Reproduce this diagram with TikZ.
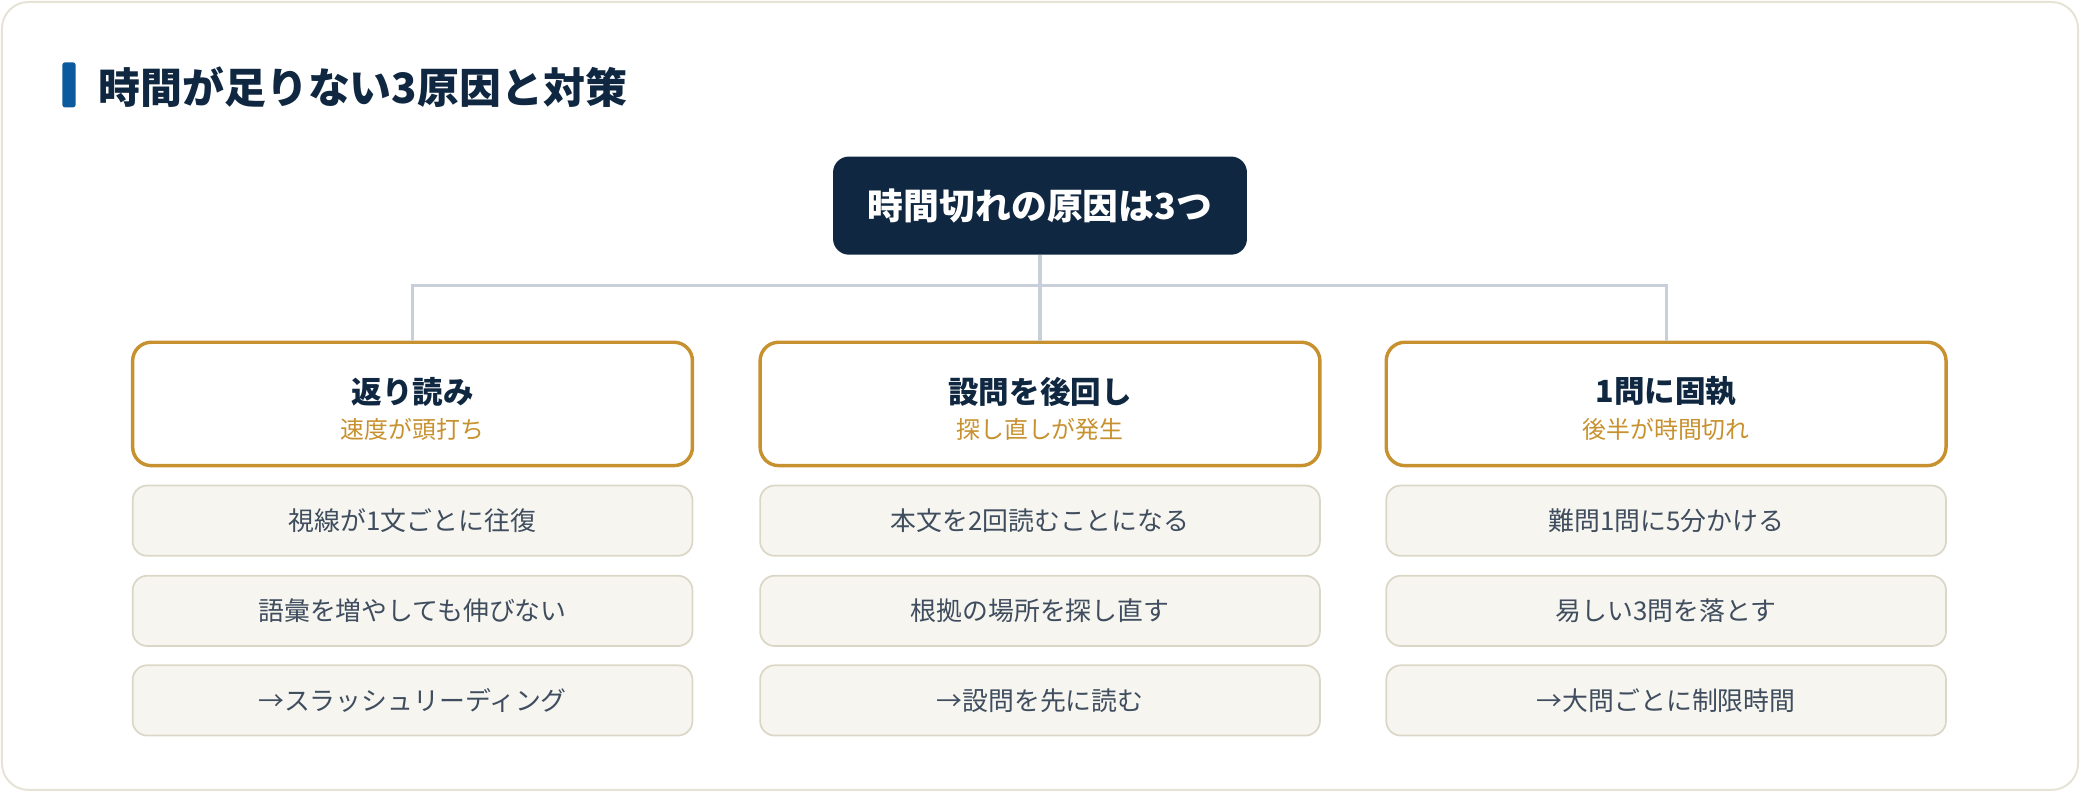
\documentclass[tikz,border=0pt]{standalone}
\usepackage{fontspec}
\setmainfont{Noto Sans CJK JP}
\usepackage{xcolor}
\usetikzlibrary{positioning}

\definecolor{navy}{HTML}{0F2740}
\definecolor{barblue}{HTML}{0B5A9E}
\definecolor{gold}{HTML}{C8912F}
\definecolor{linkgray}{HTML}{C9CFD8}
\definecolor{framegray}{HTML}{E6E3D6}
\definecolor{detailfill}{HTML}{F6F5F0}
\definecolor{detailline}{HTML}{DBD7C7}
\definecolor{detailtext}{HTML}{3F4D5E}

\tikzset{
	causebox/.style = {draw = gold, line width = 2.6pt, fill = white, rounded corners = 14pt, minimum width = 422pt, minimum height = 93pt, inner sep = 0pt, align = center},
	detailbox/.style = {draw = detailline, line width = 1.3pt, fill = detailfill, rounded corners = 11pt, minimum width = 422pt, minimum height = 53pt, inner sep = 0pt, text = detailtext, font = \fontsize{19.5}{23}\selectfont},
	link/.style = {draw = linkgray, line width = 2.4pt},
}
\newcommand{\causetext}[2]{{\rule{0pt}{27pt}\fontsize{23}{28}\selectfont\bfseries\color{navy}#1}\\[8pt]{\fontsize{18}{22}\selectfont\color{gold}#2}}

\begin{document}
\begin{tikzpicture}[x = 1pt, y = -1pt]
		\useasboundingbox (0,0) rectangle (1568,597);
		\draw[framegray, line width = 1.5pt, rounded corners = 20pt] (1.5,1.5) rectangle (1566.5,595.5);
		\fill[barblue, rounded corners = 2pt] (47,47) rectangle (57,81);
		\node[anchor = west, inner sep = 0pt, text = navy, font = \fontsize{31.6}{36}\selectfont\bfseries] (title) at (74,66) {時間が足りない3原因と対策};
		\node[fill = navy, text = white, rounded corners = 12pt, minimum width = 312pt, minimum height = 74pt, inner sep = 0pt, font = \fontsize{27}{32}\selectfont\bfseries] (root) at (784,155) {時間切れの原因は3つ};
		\coordinate (bus) at (784,215);
		\node[causebox] (c1) at (311,304.5) {\causetext{返り読み}{速度が頭打ち}};
		\node[causebox] (c2) at (784,304.5) {\causetext{設問を後回し}{探し直しが発生}};
		\node[causebox] (c3) at (1256,304.5) {\causetext{1問に固執}{後半が時間切れ}};
		\node[detailbox] (d11) at (311,392.5) {視線が1文ごとに往復};
		\node[detailbox] (d12) at (311,460.5) {語彙を増やしても伸びない};
		\node[detailbox] (d13) at (311,528) {→スラッシュリーディング};
		\node[detailbox] (d21) at (784,392.5) {本文を2回読むことになる};
		\node[detailbox] (d22) at (784,460.5) {根拠の場所を探し直す};
		\node[detailbox] (d23) at (784,528) {→設問を先に読む};
		\node[detailbox] (d31) at (1256,392.5) {難問1問に5分かける};
		\node[detailbox] (d32) at (1256,460.5) {易しい3問を落とす};
		\node[detailbox] (d33) at (1256,528) {→大問ごとに制限時間};
		\draw[link] (root.south) -- (bus);
		\draw[link] (bus) -| (c1.north);
		\draw[link] (bus) -| (c3.north);
		\draw[link] (bus) -- (c2.north);
	\end{tikzpicture}
\end{document}
